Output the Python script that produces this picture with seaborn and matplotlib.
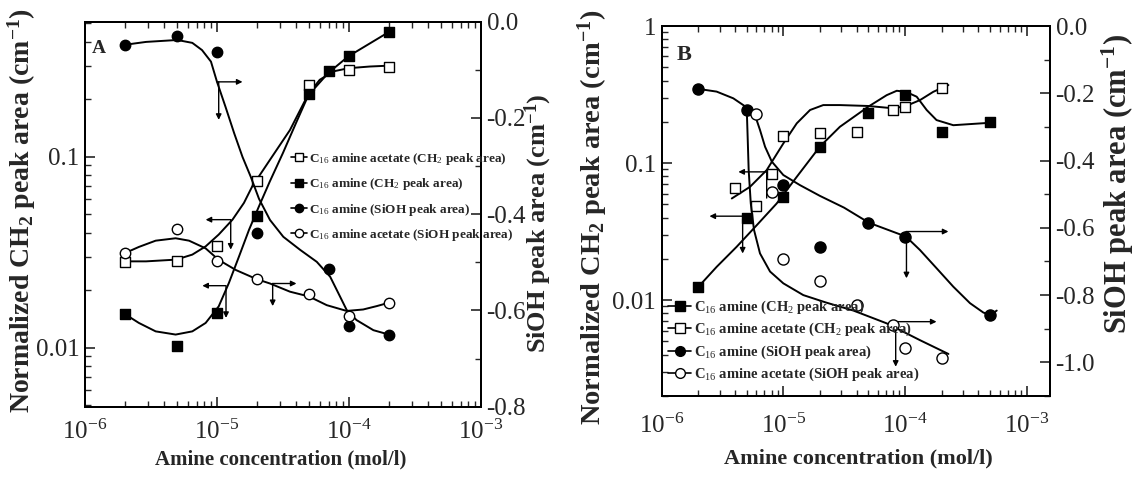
import numpy as np
import pandas as pd
import seaborn as sns
import matplotlib.pyplot as plt
import matplotlib.ticker as ticker
from matplotlib.lines import Line2D

# ---------------- panel A : measured points ----------------
a_acetate_ch2_x = [2e-6, 5e-6, 1e-5, 2e-5, 5e-5, 1e-4, 2e-4]
a_acetate_ch2_y = [0.0281, 0.0285, 0.0339, 0.0748, 0.238, 0.285, 0.297]
a_amine_ch2_x = [2e-6, 5e-6, 1e-5, 2e-5, 5e-5, 7e-5, 1e-4, 2e-4]
a_amine_ch2_y = [0.0150, 0.0102, 0.0152, 0.0487, 0.214, 0.280, 0.336, 0.450]
a_amine_sioh_x = [2e-6, 5e-6, 1e-5, 2e-5, 7e-5, 1e-4, 2e-4]
a_amine_sioh_y = [-0.048, -0.029, -0.062, -0.440, -0.514, -0.632, -0.650]
a_acetate_sioh_x = [2e-6, 5e-6, 1e-5, 2e-5, 5e-5, 1e-4, 2e-4]
a_acetate_sioh_y = [-0.481, -0.431, -0.497, -0.535, -0.566, -0.611, -0.584]

# panel A : fitted curves
a_acetate_ch2_fit_x = [2.0e-6, 2.9e-6, 4.9e-6, 6.5e-6, 8.2e-6, 1.03e-5, 1.31e-5, 1.6e-5, 1.85e-5,
                       2.52e-5, 3.57e-5, 4.92e-5, 6.0e-5, 7.6e-5, 9.9e-5, 1.44e-4, 2.0e-4]
a_acetate_ch2_fit_y = [0.0283, 0.0283, 0.0289, 0.0307, 0.0339, 0.0391, 0.0468, 0.0573, 0.070,
                       0.0964, 0.138, 0.213, 0.253, 0.280, 0.291, 0.297, 0.300]
a_amine_ch2_fit_x = [2.0e-6, 2.56e-6, 3.43e-6, 4.86e-6, 6.5e-6, 8.2e-6, 1.03e-5, 1.23e-5, 1.47e-5,
                     1.75e-5, 2.08e-5, 2.51e-5, 3.16e-5, 3.98e-5, 4.92e-5, 6.97e-5, 9.9e-5, 2.0e-4]
a_amine_ch2_fit_y = [0.0150, 0.01346, 0.01216, 0.0117, 0.01216, 0.01346, 0.01644, 0.0218, 0.0301,
                     0.0415, 0.055, 0.0741, 0.1047, 0.151, 0.210, 0.275, 0.336, 0.450]
a_amine_sioh_fit_x = [2.0e-6, 2.9e-6, 5.0e-6, 6.5e-6, 7.7e-6, 9.0e-6, 1.0e-5, 1.16e-5, 1.35e-5,
                      1.56e-5, 1.8e-5, 2.08e-5, 2.52e-5, 3.18e-5, 4.26e-5, 5.7e-5, 7.2e-5, 8.3e-5,
                      9.6e-5, 1.14e-4, 1.53e-4, 2.0e-4]
a_amine_sioh_fit_y = [-0.048, -0.042, -0.038, -0.044, -0.059, -0.083, -0.125, -0.177, -0.232,
                      -0.281, -0.322, -0.368, -0.412, -0.447, -0.474, -0.499, -0.530, -0.564,
                      -0.599, -0.620, -0.641, -0.650]
a_acetate_sioh_fit_x = [2.0e-6, 2.56e-6, 3.43e-6, 4.86e-6, 6.14e-6, 8.2e-6, 1.03e-5, 1.39e-5, 2.0e-5,
                        2.52e-5, 3.57e-5, 4.98e-5, 6.78e-5, 9.6e-5, 1.28e-4, 1.62e-4, 2.0e-4]
a_acetate_sioh_fit_y = [-0.481, -0.468, -0.455, -0.450, -0.455, -0.471, -0.495, -0.516, -0.535,
                        -0.544, -0.561, -0.571, -0.589, -0.601, -0.598, -0.591, -0.584]

# ---------------- panel B : measured points ----------------
b_amine_ch2_x = [2e-6, 5e-6, 1e-5, 2e-5, 5e-5, 1e-4, 2e-4, 5e-4]
b_amine_ch2_y = [0.0125, 0.0401, 0.0568, 0.1315, 0.233, 0.313, 0.169, 0.200]
b_acetate_ch2_x = [4e-6, 6e-6, 8e-6, 1e-5, 2e-5, 4e-5, 8e-5, 1e-4, 2e-4]
b_acetate_ch2_y = [0.0653, 0.0485, 0.083, 0.157, 0.165, 0.168, 0.244, 0.258, 0.351]
b_amine_sioh_x = [2e-6, 5e-6, 1e-5, 2e-5, 5e-5, 1e-4, 5e-4]
b_amine_sioh_y = [-0.187, -0.250, -0.473, -0.658, -0.585, -0.626, -0.859]
b_acetate_sioh_x = [6e-6, 8e-6, 1e-5, 2e-5, 4e-5, 8e-5, 1e-4, 2e-4]
b_acetate_sioh_y = [-0.262, -0.493, -0.694, -0.757, -0.829, -0.889, -0.958, -0.988]

# panel B : fitted curves
b_amine_ch2_fit_x = [2.0e-6, 2.83e-6, 4.13e-6, 6.04e-6, 8.83e-6, 1.29e-5, 2.0e-5, 2.92e-5, 5.0e-5,
                     7.08e-5, 8.57e-5, 1.02e-4, 1.25e-4, 1.51e-4, 1.82e-4, 2.5e-4, 5.08e-4]
b_amine_ch2_fit_y = [0.0125, 0.0175, 0.0245, 0.0352, 0.0508, 0.0794, 0.132, 0.184, 0.258,
                     0.313, 0.337, 0.331, 0.305, 0.244, 0.206, 0.189, 0.197]
b_acetate_ch2_fit_x = [3.77e-6, 5.32e-6, 7.3e-6, 1.0e-5, 1.29e-5, 1.66e-5, 2.13e-5, 2.92e-5, 5.0e-5,
                       8.04e-5, 1.02e-4, 1.33e-4, 1.71e-4, 2.28e-4]
b_acetate_ch2_fit_y = [0.0552, 0.0671, 0.0889, 0.139, 0.195, 0.244, 0.265, 0.265, 0.261,
                       0.251, 0.261, 0.288, 0.331, 0.371]
b_amine_sioh_fit_x = [2.0e-6, 2.83e-6, 3.88e-6, 5.0e-6, 5.85e-6, 6.43e-6, 7.08e-6, 8.04e-6, 1.0e-5,
                      1.37e-5, 2.0e-5, 3.16e-5, 5.07e-5, 1.02e-4, 1.33e-4, 1.82e-4, 2.5e-4, 3.43e-4,
                      4.42e-4, 5.08e-4, 5.69e-4]
b_amine_sioh_fit_y = [-0.187, -0.195, -0.215, -0.242, -0.265, -0.309, -0.359, -0.403, -0.443,
                      -0.473, -0.505, -0.540, -0.585, -0.626, -0.666, -0.720, -0.775, -0.824,
                      -0.852, -0.859, -0.846]
b_acetate_sioh_fit_x = [5.0e-6, 5.09e-6, 5.19e-6, 5.4e-6, 5.74e-6, 6.43e-6, 7.78e-6, 1.0e-5, 1.46e-5,
                        2.24e-5, 3.77e-5, 7.08e-5, 1.33e-4, 2.28e-4]
b_acetate_sioh_fit_y = [-0.242, -0.329, -0.428, -0.527, -0.606, -0.676, -0.730, -0.765, -0.800,
                        -0.822, -0.846, -0.884, -0.934, -0.975]

# annotation arrows (x0, y0, x1, y1) in data units
a_left_arrows = [(1.27e-5, 0.0468, 8.2e-6, 0.0468), (1.27e-5, 0.0468, 1.27e-5, 0.0326),
                 (1.16e-5, 0.0211, 7.74e-6, 0.0211), (1.17e-5, 0.0211, 1.17e-5, 0.0143)]
a_right_arrows = [(1.0e-5, -0.125, 1.56e-5, -0.125), (1.03e-5, -0.125, 1.03e-5, -0.204),
                  (2.64e-5, -0.544, 4.0e-5, -0.544), (2.64e-5, -0.544, 2.64e-5, -0.591)]
b_left_arrows = [(7.3e-6, 0.0863, 4.27e-6, 0.0863), (5.0e-6, 0.041, 2.47e-6, 0.041),
                 (4.63e-6, 0.039, 4.63e-6, 0.0219)]
b_left_lines = [(7.3e-6, 0.0863, 7.3e-6, 0.0556)]
b_right_arrows = [(1.02e-4, -0.611, 2.28e-4, -0.611), (1.03e-4, -0.626, 1.03e-4, -0.750),
                  (8.4e-5, -0.879, 1.82e-4, -0.879), (8.4e-5, -0.879, 8.4e-5, -1.013)]

lbl_amine_ch2 = r'C$_{16}$ amine (CH$_2$ peak area)'
lbl_acetate_ch2 = r'C$_{16}$ amine acetate (CH$_2$ peak area)'
lbl_amine_sioh = r'C$_{16}$ amine (SiOH peak area)'
lbl_acetate_sioh = r'C$_{16}$ amine acetate (SiOH peak area)'

sns.set_style('ticks')
plt.rcParams['font.family'] = ['Liberation Serif', 'DejaVu Serif']
plt.rcParams['mathtext.fontset'] = 'custom'
plt.rcParams['mathtext.rm'] = 'Liberation Serif'
plt.rcParams['mathtext.it'] = 'Liberation Serif:italic'
plt.rcParams['mathtext.bf'] = 'Liberation Serif:bold'
plt.rcParams['axes.unicode_minus'] = False
plt.rcParams['axes.edgecolor'] = 'black'
plt.rcParams['axes.linewidth'] = 1.4


def draw_points(ax, x, y, marker, filled, size):
    sns.scatterplot(x=x, y=y, ax=ax, marker=marker, s=size ** 2,
                    color='black' if filled else 'white', edgecolor='black',
                    linewidth=1.0, zorder=4, legend=False)


def draw_curve(ax, x, y):
    sns.lineplot(x=x, y=y, ax=ax, sort=False, estimator=None, color='black',
                 lw=1.4, legend=False, zorder=3)


def draw_arrows(ax, arrows, head=True):
    for x0, y0, x1, y1 in arrows:
        ax.annotate('', xy=(x1, y1), xytext=(x0, y0),
                    arrowprops=dict(arrowstyle='-|>' if head else '-', color='black', lw=1.0,
                                    mutation_scale=8, shrinkA=0, shrinkB=0))


def fmt_right(v, pos):
    if abs(v) < 1e-9:
        return '0.0'
    return f'{v:.1f}'


def setup_axes(ax, ax2, xmax, ylim_left, ylim_right, ticksize, xpad):
    ax.set_xlim(1e-6, xmax)
    ax.set_ylim(*ylim_left)
    ax2.set_ylim(*ylim_right)
    ax.xaxis.set_major_locator(ticker.LogLocator(base=10, numticks=10))
    ax.xaxis.set_minor_locator(ticker.LogLocator(base=10, subs=np.arange(2, 10), numticks=10))
    ax.xaxis.set_minor_formatter(ticker.NullFormatter())
    ax.yaxis.set_major_locator(ticker.LogLocator(base=10, numticks=10))
    ax.yaxis.set_minor_locator(ticker.LogLocator(base=10, subs=np.arange(2, 10), numticks=10))
    ax.yaxis.set_major_formatter(ticker.FuncFormatter(lambda v, p: f'{v:g}'))
    ax.yaxis.set_minor_formatter(ticker.NullFormatter())
    ax2.yaxis.set_major_locator(ticker.MultipleLocator(0.2))
    ax2.yaxis.set_minor_locator(ticker.MultipleLocator(0.1))
    ax2.yaxis.set_major_formatter(ticker.FuncFormatter(fmt_right))
    ax.tick_params(axis='both', which='both', direction='in', top=True, right=False,
                   labelsize=ticksize, pad=4)
    ax.tick_params(axis='x', which='major', pad=xpad)
    ax.tick_params(which='major', length=7, width=1.2)
    ax.tick_params(which='minor', length=4, width=1.0)
    ax2.tick_params(axis='y', which='both', direction='in', right=True, left=False,
                    labelsize=ticksize, pad=4)
    ax2.tick_params(which='major', length=7, width=1.2)
    ax2.tick_params(which='minor', length=4, width=1.0)
    for a in (ax, ax2):
        for s in a.spines.values():
            s.set_linewidth(1.4)
            s.set_color('black')


def handle(marker, filled, ms):
    return Line2D([], [], color='black', lw=1.2, marker=marker, markersize=ms,
                  markerfacecolor='black' if filled else 'white', markeredgecolor='black')


fig = plt.figure(figsize=(11.35, 4.8), dpi=100)
fig.patch.set_facecolor('white')

# ================= panel A =================
axA = fig.add_axes([0.0749, 0.1527, 0.3489, 0.8021])
axA.set_xscale('log')
axA.set_yscale('log')
axA2 = axA.twinx()

draw_curve(axA, a_acetate_ch2_fit_x, a_acetate_ch2_fit_y)
draw_curve(axA, a_amine_ch2_fit_x, a_amine_ch2_fit_y)
draw_points(axA, a_acetate_ch2_x, a_acetate_ch2_y, 's', False, 7)
draw_points(axA, a_amine_ch2_x, a_amine_ch2_y, 's', True, 7)
draw_curve(axA2, a_amine_sioh_fit_x, a_amine_sioh_fit_y)
draw_curve(axA2, a_acetate_sioh_fit_x, a_acetate_sioh_fit_y)
draw_points(axA2, a_amine_sioh_x, a_amine_sioh_y, 'o', True, 7.5)
draw_points(axA2, a_acetate_sioh_x, a_acetate_sioh_y, 'o', False, 7.5)
draw_arrows(axA, a_left_arrows)
draw_arrows(axA2, a_right_arrows)

setup_axes(axA, axA2, 1e-3, (0.0049, 0.51), (-0.8, 0.0), 18, 9)
axA.set_xlabel('Amine concentration (mol/l)', fontsize=15, fontweight='bold')
axA.set_ylabel(r'Normalized CH$_\mathbf{2}$ peak area (cm$^\mathbf{-1}$)', fontsize=20, fontweight='bold')
axA2.set_ylabel(r'SiOH peak area (cm$^\mathbf{-1}$)', fontsize=19, fontweight='bold')
axA.xaxis.set_label_coords(0.495, -0.112)
axA.yaxis.set_label_coords(-0.119, 0.508)
axA2.yaxis.set_label_coords(1.105, 0.477)
axA.text(0.018, 0.918, 'A', transform=axA.transAxes, fontsize=14, fontweight='bold', va='baseline')

legA = axA2.legend(handles=[handle('s', False, 6), handle('s', True, 6),
                            handle('o', True, 6), handle('o', False, 6)],
                   labels=[lbl_acetate_ch2, lbl_amine_ch2, lbl_amine_sioh, lbl_acetate_sioh],
                   loc='upper left', bbox_to_anchor=(0.52, 0.664), frameon=False,
                   borderpad=0, borderaxespad=0, handlelength=1.2, handletextpad=0.2,
                   labelspacing=0.7, prop={'family': 'Liberation Serif', 'weight': 'bold', 'size': 9.5})

# ================= panel B =================
axB = fig.add_axes([0.583, 0.175, 0.3421, 0.7708])
axB.set_xscale('log')
axB.set_yscale('log')
axB2 = axB.twinx()

draw_curve(axB, b_amine_ch2_fit_x, b_amine_ch2_fit_y)
draw_curve(axB, b_acetate_ch2_fit_x, b_acetate_ch2_fit_y)
draw_points(axB, b_amine_ch2_x, b_amine_ch2_y, 's', True, 7.5)
draw_points(axB, b_acetate_ch2_x, b_acetate_ch2_y, 's', False, 7.5)
draw_curve(axB2, b_amine_sioh_fit_x, b_amine_sioh_fit_y)
draw_curve(axB2, b_acetate_sioh_fit_x, b_acetate_sioh_fit_y)
draw_points(axB2, b_amine_sioh_x, b_amine_sioh_y, 'o', True, 8)
draw_points(axB2, b_acetate_sioh_x, b_acetate_sioh_y, 'o', False, 8)
draw_arrows(axB, b_left_arrows)
draw_arrows(axB, b_left_lines, head=False)
draw_arrows(axB2, b_right_arrows)

setup_axes(axB, axB2, 1.56e-3, (0.002, 1.0), (-1.1, 0.0), 18, 13)
axB.set_xlabel('Amine concentration (mol/l)', fontsize=16, fontweight='bold')
axB.set_ylabel(r'Normalized CH$_\mathbf{2}$ peak area (cm$^\mathbf{-1}$)', fontsize=20.5, fontweight='bold')
axB2.set_ylabel(r'SiOH peak area (cm$^\mathbf{-1}$)', fontsize=22, fontweight='bold')
axB.xaxis.set_label_coords(0.506, -0.141)
axB.yaxis.set_label_coords(-0.133, 0.484)
axB2.yaxis.set_label_coords(1.129, 0.573)
axB.text(0.039, 0.908, 'B', transform=axB.transAxes, fontsize=16, fontweight='bold', va='baseline')

legB = axB2.legend(handles=[handle('s', True, 7), handle('s', False, 7),
                            handle('o', True, 7), handle('o', False, 7)],
                   labels=[lbl_amine_ch2, lbl_acetate_ch2, lbl_amine_sioh, lbl_acetate_sioh],
                   loc='upper left', bbox_to_anchor=(0.016, 0.263), frameon=False,
                   borderpad=0, borderaxespad=0, handlelength=1.6, handletextpad=0.2,
                   labelspacing=0.35, prop={'family': 'Liberation Serif', 'weight': 'bold', 'size': 10.5})

fig.savefig('out.png', dpi=100, facecolor='white')
plt.close(fig)
